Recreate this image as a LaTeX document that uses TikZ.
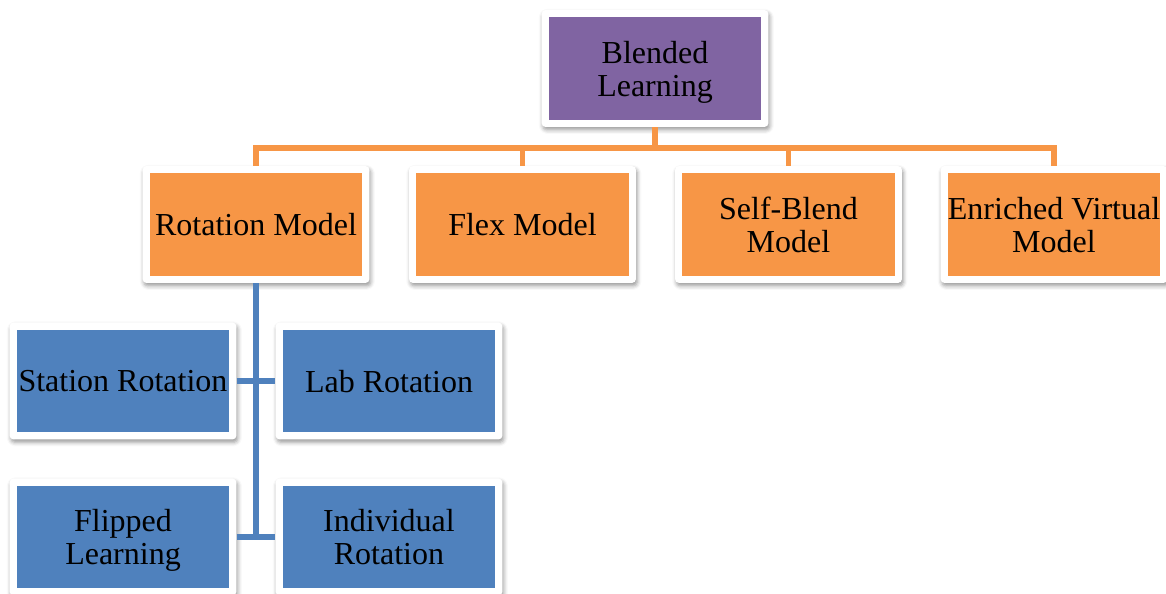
\documentclass[tikz,border=0pt]{standalone}
\usepackage{fontspec}
\setmainfont{Liberation Serif}
\usetikzlibrary{shadows.blur}
\definecolor{topcol}{HTML}{8064A2}
\definecolor{modcol}{HTML}{F79646}
\definecolor{subcol}{HTML}{4F81BD}
\begin{document}
\begin{tikzpicture}[x=0.75pt,y=-0.75pt,
  box/.style={fill=white,rounded corners=3pt,
    minimum width=170.2pt,minimum height=87.7pt,inner sep=5pt,align=center,
    text depth=0pt,font=\fontsize{24}{24.8}\selectfont,
    blur shadow={shadow xshift=1pt,shadow yshift=-2.2pt,shadow blur radius=3pt,shadow opacity=40},
    path picture={\fill[#1,sharp corners] ([shift={(5.5pt,-5.5pt)}]path picture bounding box.north west)
      rectangle ([shift={(-5.5pt,5.5pt)}]path picture bounding box.south east);}},
  orangeline/.style={draw=modcol,line width=3.8pt},
  blueline/.style={draw=subcol,line width=4.5pt}]
  \useasboundingbox (0,0) rectangle (1166,593);
  % top
  \node[box=topcol] (blend) at (655,68.5) {Blended\\Learning};
  % models
  \node[box=modcol] (rot) at (256,224.5) {Rotation Model};
  \node[box=modcol] (flex) at (522.5,224.5) {Flex Model};
  \node[box=modcol] (self) at (788.5,224.5) {Self-Blend\\Model};
  \node[box=modcol] (env) at (1054,224.5) {Enriched Virtual\\Model};
  % rotation types
  \node[box=subcol] (station) at (123,381) {Station Rotation};
  \node[box=subcol] (lab) at (389,381) {Lab Rotation};
  \node[box=subcol] (flip) at (123,537) {Flipped\\Learning};
  \node[box=subcol] (indiv) at (389,537) {Individual\\Rotation};
  % connectors
  \coordinate (bus) at (655,148);
  \foreach \n in {rot,flex,self,env}
    \draw[orangeline] (blend.south) -- (bus) -| (\n.north);
  \draw[blueline] (rot.south) -- (rot.south |- flip.east);
  \draw[blueline] (station.east) -- (lab.west);
  \draw[blueline] (flip.east) -- (indiv.west);
\end{tikzpicture}
\end{document}
